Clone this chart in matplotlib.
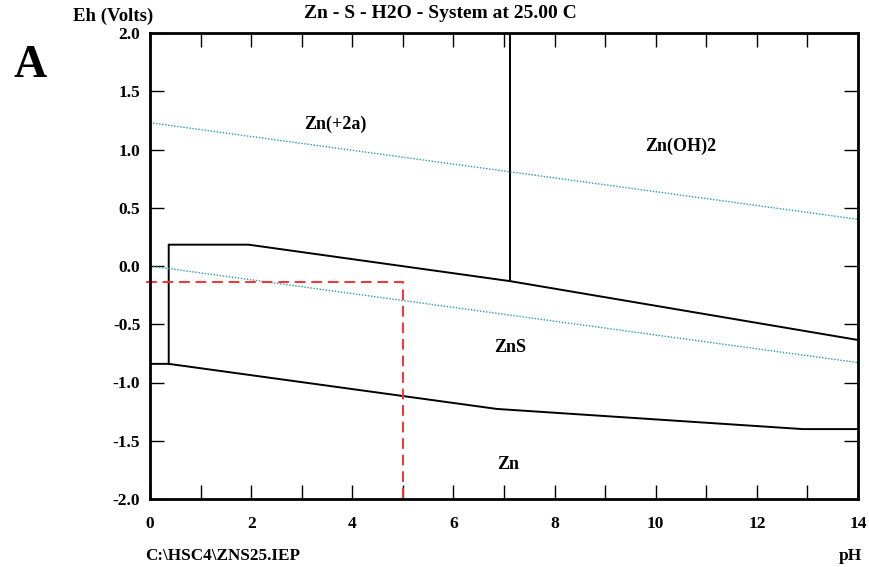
import matplotlib
matplotlib.use("Agg")
import matplotlib.pyplot as plt

# Eh-pH boundaries
znS_top_ph = [0.37, 0.37, 1.95, 7.12, 14.0]
znS_top_eh = [-0.84, 0.183, 0.183, -0.13, -0.635]
zn_znS_ph = [0.0, 0.37, 6.86, 12.91, 14.0]
zn_znS_eh = [-0.84, -0.84, -1.227, -1.40, -1.40]
zn2_oh_ph = [7.12, 7.12]
zn2_oh_eh = [2.0, -0.13]

# water stability lines
water_ph = [0.0, 14.0]
water_upper = [1.23, 0.401]
water_lower = [0.0, -0.829]

# red marker at pH 5
marker_ph = [-0.08, 5.0, 5.0]
marker_eh = [-0.137, -0.137, -2.0]

region_names = ["Zn(+2a)", "Zn(OH)2", "ZnS", "Zn"]
region_ph = [3.66, 10.5, 7.12, 7.08]
region_eh = [1.22, 1.03, -0.70, -1.70]

xticks = list(range(0, 15))
xlabels = [str(v) if v % 2 == 0 else "" for v in xticks]
yticks = [2.0, 1.5, 1.0, 0.5, 0.0, -0.5, -1.0, -1.5, -2.0]

plt.rcParams["font.family"] = ["Liberation Serif", "DejaVu Serif"]
plt.rcParams["font.weight"] = "bold"

fig = plt.figure(figsize=(8.69, 5.67), dpi=100)
ax = fig.add_axes([150 / 869, 68 / 567, 708 / 869, 466 / 567])

ax.plot(znS_top_ph, znS_top_eh, color="black", lw=1.4)
ax.plot(zn_znS_ph, zn_znS_eh, color="black", lw=1.4)
ax.plot(zn2_oh_ph, zn2_oh_eh, color="black", lw=1.4)
ax.plot(water_ph, water_upper, color="#2a9c9c", lw=1.0, ls=(0, (1, 1.2)))
ax.plot(water_ph, water_lower, color="#2a9c9c", lw=1.0, ls=(0, (1, 1.2)))
ax.plot(marker_ph, marker_eh, color="#ff3030", lw=1.4, ls=(0, (5.5, 3)), clip_on=False)

for name, px, py in zip(region_names, region_ph, region_eh):
    ax.text(px, py, name, ha="center", va="center", fontsize=13, fontweight="bold")

ax.set_xlim(0, 14)
ax.set_ylim(-2, 2)
ax.set_xticks(xticks)
ax.set_xticklabels(xlabels)
ax.set_yticks(yticks)
ax.set_yticklabels([f"{v:.1f}" for v in yticks])
ax.tick_params(direction="in", length=10, width=1.0, top=True, right=True,
               labelsize=12.5)
ax.tick_params(axis="y", pad=7)
ax.tick_params(axis="x", pad=12.5)
for lbl in ax.get_xticklabels() + ax.get_yticklabels():
    lbl.set_fontweight("bold")
for sp in ax.spines.values():
    sp.set_linewidth(2.0)

fig.text(440 / 869, 1 - 14 / 567, "Zn - S - H2O - System at 25.00 C",
         ha="center", va="center", fontsize=14, fontweight="bold")
fig.text(113 / 869, 1 - 16 / 567, "Eh (Volts)", ha="center", va="center",
         fontsize=13.5, fontweight="bold")
fig.text(30 / 869, 1 - 66 / 567, "A", ha="center", va="center",
         fontsize=33, fontweight="bold")
fig.text(145 / 869, 1 - 556 / 567, "C:\\HSC4\\ZNS25.IEP", ha="left", va="center",
         fontsize=12.3, fontweight="bold")
fig.text(850 / 869, 1 - 556 / 567, "pH", ha="center", va="center",
         fontsize=12.5, fontweight="bold")

fig.savefig("out.png", dpi=100)
